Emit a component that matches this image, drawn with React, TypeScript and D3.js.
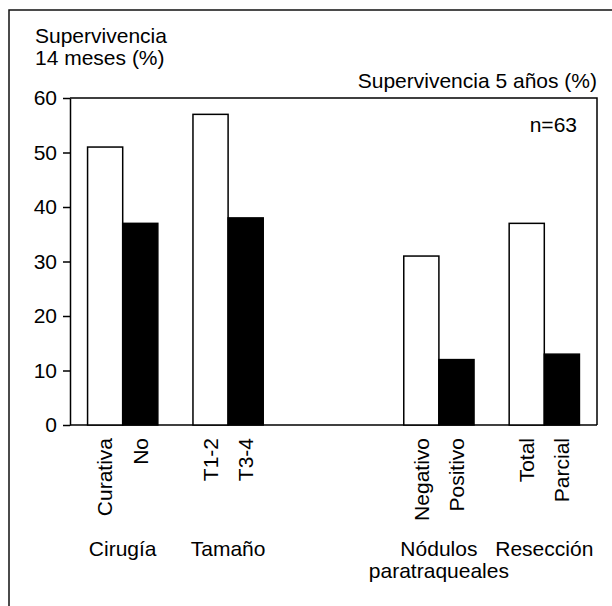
import React, { useRef, useEffect } from "react";
import * as d3 from "d3";

// empty slot between the two halves of the chart
const slots = ["Cirugía", "Tamaño", "", "Nódulos paratraqueales", "Resección"];
const groupLines = [["Cirugía"], ["Tamaño"], [], ["Nódulos", "paratraqueales"], ["Resección"]];
const firstLabels = ["Curativa", "T1-2", "", "Negativo", "Total"];
const secondLabels = ["No", "T3-4", "", "Positivo", "Parcial"];
const firstValues = [51, 57, null, 31, 37];
const secondValues = [37, 38, null, 12, 13];
const yTicks = [0, 10, 20, 30, 40, 50, 60];

const W = 612;
const H = 606;
const plot = { left: 70, right: 597, top: 98, bottom: 425 };
const font = "'Liberation Sans', Arial, Helvetica, sans-serif";

const App = () => {
  const yAxisRef = useRef<SVGGElement>(null);

  const x0 = d3
    .scaleBand()
    .domain(slots)
    .range([plot.left, plot.right])
    .paddingInner(1 / 3)
    .paddingOuter(1 / 6);

  const x1 = d3
    .scaleBand()
    .domain(["a", "b"])
    .range([0, x0.bandwidth()]);

  const y = d3.scaleLinear().domain([0, 60]).range([plot.bottom, plot.top]);

  useEffect(() => {
    if (yAxisRef.current) {
      const g = d3.select(yAxisRef.current);
      g.call(
        d3
          .axisLeft(y)
          .tickValues(yTicks)
          .tickSize(7)
          .tickSizeOuter(0)
          .tickPadding(6)
      );
      g.selectAll("text")
        .attr("font-size", 21)
        .attr("font-family", font)
        .attr("fill", "#000");
      g.selectAll("line").attr("stroke", "#000").attr("stroke-width", 1.5);
      g.select(".domain").attr("stroke", "#000").attr("stroke-width", 1.5);
    }
  }, [y]);

  const bars: { key: string; x: number; v: number; dark: boolean; label: string }[] = [];
  slots.forEach((s, i) => {
    if (firstValues[i] != null) {
      bars.push({ key: s + "a", x: (x0(s) || 0) + (x1("a") || 0), v: firstValues[i] as number, dark: false, label: firstLabels[i] });
      bars.push({ key: s + "b", x: (x0(s) || 0) + (x1("b") || 0), v: secondValues[i] as number, dark: true, label: secondLabels[i] });
    }
  });

  return (
    <svg width={W} height={H} style={{ position: "absolute", left: 0, top: 0, background: "#fff" }}>
      {/* outer frame, cut by the page edges */}
      <path d={`M9,${H + 5} V10 H${W + 5}`} fill="none" stroke="#111" strokeWidth={1.5} />

      <g fontFamily={font} fontSize={21} fill="#000">
        <text x={35} y={43}>Supervivencia</text>
        <text x={35} y={65}>14 meses (%)</text>
        <text x={plot.right} y={88} textAnchor="end">Supervivencia 5 años (%)</text>
        <text x={577} y={132} textAnchor="end">n=63</text>
      </g>

      {/* plot box */}
      <path
        d={`M${plot.left},${plot.top} H${plot.right} V${plot.bottom}`}
        fill="none"
        stroke="#000"
        strokeWidth={1.5}
      />
      <line x1={plot.left} x2={plot.right} y1={plot.bottom} y2={plot.bottom} stroke="#000" strokeWidth={1.5} />

      {bars.map((b) => (
        <rect
          key={b.key}
          x={b.x}
          y={y(b.v)}
          width={x1.bandwidth()}
          height={plot.bottom - y(b.v)}
          fill={b.dark ? "#000" : "#fff"}
          stroke="#000"
          strokeWidth={1.5}
        />
      ))}

      <g ref={yAxisRef} transform={`translate(${plot.left},0)`} />

      <g fontFamily={font} fontSize={21} fill="#000">
        {bars.map((b) => (
          <text
            key={b.key + "l"}
            transform={`translate(${b.x + x1.bandwidth() / 2},438) rotate(-90)`}
            textAnchor="end"
            dy="0.35em"
          >
            {b.label}
          </text>
        ))}
        {slots.map((s, i) =>
          groupLines[i].map((line, j) => (
            <text
              key={s + j}
              x={(x0(s) || 0) + x0.bandwidth() / 2}
              y={556 + j * 22}
              textAnchor="middle"
            >
              {line}
            </text>
          ))
        )}
      </g>
    </svg>
  );
};

export default App;
